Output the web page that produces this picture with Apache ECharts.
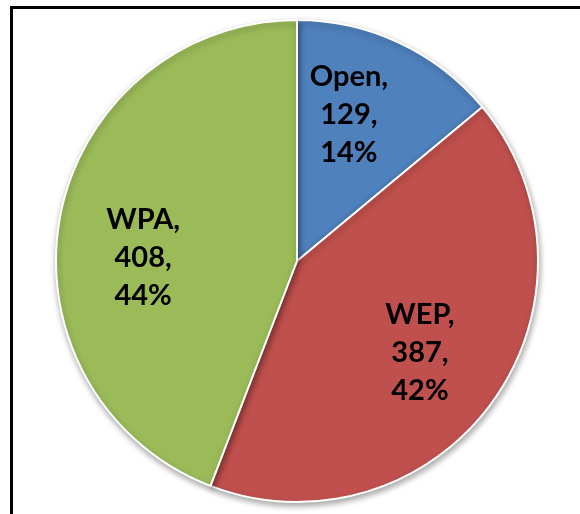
<!DOCTYPE html>
<html><head><meta charset="utf-8">
<script src="https://cdn.jsdelivr.net/npm/echarts@6/dist/echarts.min.js"></script>
<style>html,body{margin:0;padding:0;background:#fff}#c{width:580px;height:514px}</style>
</head><body><div id="c"></div>
<script>
const categories = ['Open', 'WEP', 'WPA'];
const values = [129, 387, 408];
const percents = ['14%', '42%', '44%'];
const colors = ['#4F81BD', '#C0504D', '#9BBB59'];

const labelShift = [[-15, -4], [-5, 0], [1, 25]];
const data = categories.map((c, i) => ({ name: c, value: values[i], itemStyle: { color: colors[i] } }));
const chart = echarts.init(document.getElementById('c'));
chart.setOption({
  animation: false,
  graphic: [{ type: 'rect', shape: { x: 11.5, y: 7.5, width: 700, height: 700 }, style: { fill: 'none', stroke: '#000', lineWidth: 3 }, silent: true }],
  series: [
    {
      type: 'pie', center: [297, 261], radius: 241, startAngle: 90, clockwise: true,
      label: { show: false }, labelLine: { show: false },
      itemStyle: { borderColor: '#fff', borderWidth: 2, shadowBlur: 6, shadowColor: 'rgba(0,0,0,0.35)', shadowOffsetX: 1, shadowOffsetY: 3 },
      data: data
    },
    {
      type: 'pie', center: [297, 261], radius: [68, 241], startAngle: 90, clockwise: true, silent: true,
      itemStyle: { color: 'rgba(0,0,0,0)' },
      label: {
        show: true, position: 'inside',
        formatter: p => p.name + ',\n' + p.value + ',\n' + percents[p.dataIndex],
        color: '#000', fontFamily: 'Lato', fontWeight: 'bold', fontSize: 29, lineHeight: 38, align: 'center'
      },
      labelLayout: p => ({ dx: labelShift[p.dataIndex][0], dy: labelShift[p.dataIndex][1] }),
      labelLine: { show: false },
      data: categories.map((c, i) => ({ name: c, value: values[i] }))
    }
  ]
});
</script></body></html>
